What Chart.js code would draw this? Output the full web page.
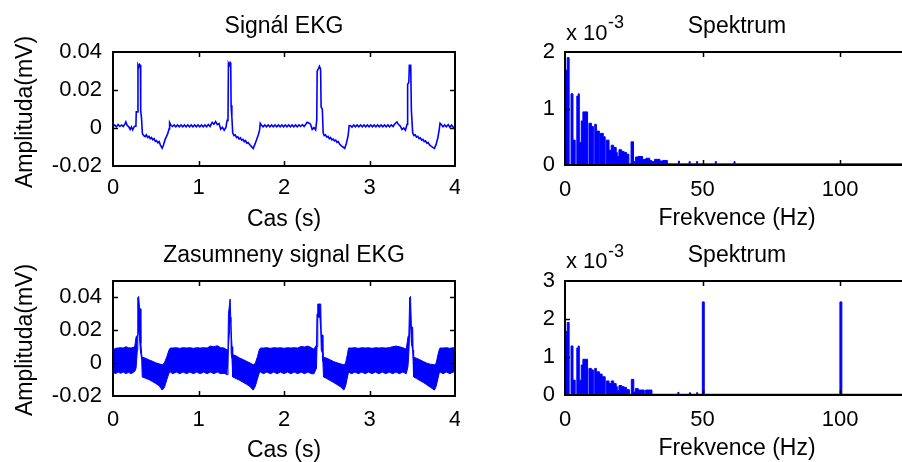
<!DOCTYPE html>
<html>
<head>
<meta charset="utf-8">
<script src="https://cdn.jsdelivr.net/npm/chart.js"></script>
<style>
html,body{margin:0;padding:0;background:#fff;overflow:hidden;}
#wrap{position:relative;width:902px;height:462px;overflow:hidden;background:#fff;}
canvas{position:absolute;}
.t{position:absolute;font-family:"Liberation Sans",Arial,sans-serif;font-size:23px;line-height:23px;white-space:nowrap;color:#000;transform:translateX(-50%);}
.r{position:absolute;font-family:"Liberation Sans",Arial,sans-serif;font-size:23px;line-height:23px;white-space:nowrap;color:#000;transform:translate(-50%,-50%) rotate(-90deg);}
.e{position:absolute;font-family:"Liberation Sans",Arial,sans-serif;white-space:nowrap;color:#000;}
</style>
</head>
<body>
<div id="wrap">
  <canvas id="c1" width="460" height="232" style="left:0;top:0"></canvas>
  <canvas id="c2" width="460" height="232" style="left:460px;top:0"></canvas>
  <canvas id="c3" width="460" height="230" style="left:0;top:232px"></canvas>
  <canvas id="c4" width="460" height="230" style="left:460px;top:232px"></canvas>

  <div class="t" style="left:284px;top:13.5px">Signál EKG</div>
  <div class="t" style="left:737px;top:13.5px">Spektrum</div>
  <div class="t" style="left:284px;top:206.5px">Cas (s)</div>
  <div class="t" style="left:737px;top:205.5px">Frekvence (Hz)</div>
  <div class="r" style="left:23.5px;top:112px">Amplituda(mV)</div>
  <div class="e" style="left:566px;top:22.4px;font-size:22px;line-height:22px">x 10</div>
  <div class="e" style="left:608px;top:12.8px;font-size:18px;line-height:18px">-3</div>

  <div class="t" style="left:284px;top:242.5px">Zasumneny signal EKG</div>
  <div class="t" style="left:737px;top:242.5px">Spektrum</div>
  <div class="t" style="left:284px;top:437.5px">Cas (s)</div>
  <div class="t" style="left:737px;top:435.5px">Frekvence (Hz)</div>
  <div class="r" style="left:23.5px;top:339.5px">Amplituda(mV)</div>
  <div class="e" style="left:566px;top:250.4px;font-size:22px;line-height:22px">x 10</div>
  <div class="e" style="left:608px;top:241.8px;font-size:18px;line-height:18px">-3</div>
</div>
<script>
// ---------------- DATA ----------------
// Clean ECG signal (time in s, amplitude in mV)
const ekgTime = [
0.000,0.020,0.040,0.060,0.080,0.100,0.120,0.140,0.150,0.165,0.185,0.200,0.215,0.230,0.250,0.268,0.272,0.288,0.292,0.300,0.310,0.320,0.324,0.334,0.344,
0.360,0.375,0.390,0.405,0.420,0.435,0.450,0.465,0.480,0.495,0.510,0.525,0.540,0.555,0.575,0.590,0.610,0.625,0.640,0.655,0.662,0.675,
0.695,0.715,0.735,0.755,0.775,0.795,0.815,0.835,0.855,0.875,0.895,0.915,0.935,0.955,0.975,0.995,1.015,1.035,1.055,1.075,1.095,1.115,1.135,
1.160,1.180,1.200,1.220,1.240,1.260,1.280,1.300,1.320,1.335,1.345,1.350,1.360,1.370,1.377,1.381,1.390,1.400,
1.415,1.430,1.445,1.460,1.475,1.490,1.505,1.520,1.535,1.550,1.565,1.580,1.600,1.620,1.640,1.660,1.680,1.700,1.715,1.722,1.735,
1.755,1.775,1.795,1.815,1.835,1.855,1.875,1.895,1.915,1.935,1.955,1.975,1.995,2.015,2.035,2.055,2.075,2.095,2.115,2.135,2.155,2.175,2.195,2.215,2.235,2.255,
2.270,2.290,2.310,2.330,2.350,2.370,2.383,2.388,2.400,2.415,2.428,2.434,2.448,2.458,
2.470,2.485,2.500,2.515,2.530,2.545,2.560,2.575,2.590,2.605,2.620,2.635,2.650,2.670,2.690,2.710,2.730,2.750,2.762,2.780,
2.795,2.815,2.835,2.855,2.875,2.895,2.915,2.935,2.955,2.975,2.995,3.015,3.035,3.055,3.075,3.095,3.115,3.135,3.155,3.175,3.195,3.215,3.235,3.255,3.275,
3.300,3.320,3.340,3.360,3.380,3.400,3.420,3.440,3.446,3.460,3.466,3.482,3.490,3.505,
3.520,3.535,3.550,3.565,3.580,3.595,3.610,3.625,3.640,3.655,3.670,3.685,3.700,3.720,3.740,3.760,3.780,3.800,3.815,3.825,3.840,
3.860,3.880,3.900,3.920,3.940,3.960,3.980,4.000];
const ekgAmp = [
0.0010,0.0016,0.0006,0.0018,0.0008,0.0016,0.0008,0.0022,0.0032,0.0014,0.0006,-0.0008,0.0006,-0.0010,0.0008,0.0010,0.0085,0.0085,0.0330,0.0320,0.0335,0.0330,0.0090,0.0050,-0.0030,
-0.0040,-0.0045,-0.0036,-0.0050,-0.0044,-0.0056,-0.0050,-0.0062,-0.0056,-0.0070,-0.0066,-0.0078,-0.0072,-0.0090,-0.0106,-0.0090,-0.0060,-0.0045,-0.0030,-0.0005,0.0028,0.0016,
0.0008,0.0016,0.0006,0.0016,0.0006,0.0016,0.0006,0.0016,0.0006,0.0016,0.0006,0.0016,0.0006,0.0016,0.0006,0.0016,0.0006,0.0016,0.0006,0.0016,0.0006,0.0018,0.0008,
0.0030,0.0020,0.0034,0.0018,0.0024,-0.0006,0.0004,-0.0012,0.0002,0.0040,0.0045,0.0340,0.0330,0.0345,0.0340,0.0120,0.0060,-0.0025,
-0.0040,-0.0036,-0.0050,-0.0046,-0.0058,-0.0052,-0.0064,-0.0060,-0.0072,-0.0066,-0.0080,-0.0076,-0.0088,-0.0098,-0.0108,-0.0085,-0.0060,-0.0035,-0.0010,0.0025,0.0016,
0.0006,0.0016,0.0006,0.0016,0.0006,0.0016,0.0006,0.0016,0.0006,0.0016,0.0006,0.0016,0.0006,0.0016,0.0006,0.0016,0.0006,0.0016,0.0006,0.0016,0.0006,0.0016,0.0008,0.0018,0.0008,0.0020,
0.0030,0.0026,0.0020,-0.0008,0.0002,-0.0010,0.0040,0.0300,0.0310,0.0325,0.0310,0.0110,0.0100,-0.0025,
-0.0040,-0.0036,-0.0048,-0.0044,-0.0056,-0.0050,-0.0062,-0.0058,-0.0068,-0.0064,-0.0076,-0.0072,-0.0084,-0.0094,-0.0100,-0.0107,-0.0080,-0.0040,0.0013,0.0012,
0.0004,0.0016,0.0006,0.0016,0.0006,0.0016,0.0006,0.0016,0.0006,0.0016,0.0006,0.0016,0.0006,0.0016,0.0006,0.0016,0.0006,0.0016,0.0006,0.0016,0.0006,0.0016,0.0006,0.0016,0.0008,
0.0024,0.0032,0.0018,0.0010,-0.0008,0.0000,-0.0012,0.0020,0.0230,0.0240,0.0330,0.0330,0.0090,-0.0025,
-0.0040,-0.0036,-0.0048,-0.0044,-0.0056,-0.0052,-0.0064,-0.0060,-0.0072,-0.0068,-0.0080,-0.0076,-0.0088,-0.0096,-0.0102,-0.0107,-0.0085,-0.0050,-0.0010,0.0025,0.0018,
0.0006,0.0016,0.0006,0.0018,0.0004,0.0016,0.0004,0.0004];

// Noisy ECG: upper and lower envelope of the dense 50/100 Hz noise band (mV)
const noisyTime = [
0.000,0.030,0.060,0.090,0.120,0.150,0.180,0.210,0.240,0.255,0.270,0.285,0.290,0.300,0.310,0.320,0.326,0.336,0.342,
0.380,0.420,0.460,0.500,0.540,0.575,0.600,0.630,0.655,0.670,
0.700,0.740,0.780,0.820,0.860,0.900,0.940,0.980,1.020,1.060,1.100,1.140,1.180,1.220,1.260,1.300,1.335,1.345,1.350,1.370,1.378,1.382,1.392,1.400,
1.440,1.480,1.520,1.560,1.600,1.640,1.665,1.690,1.710,1.725,
1.760,1.800,1.840,1.880,1.920,1.960,2.000,2.040,2.080,2.120,2.160,2.200,2.240,2.280,2.320,2.350,2.380,2.386,2.395,2.420,2.430,2.436,2.450,2.455,2.462,
2.500,2.540,2.580,2.620,2.660,2.700,2.720,2.740,2.755,
2.790,2.830,2.870,2.910,2.950,2.990,3.030,3.070,3.110,3.150,3.190,3.230,3.270,3.310,3.350,3.390,3.430,3.450,3.460,3.470,3.480,3.490,3.505,3.510,3.516,
3.550,3.590,3.630,3.670,3.710,3.760,3.780,3.800,3.815,3.825,
3.860,3.900,3.940,3.980,4.000];
const noisyHigh = [
0.0082,0.0090,0.0092,0.0094,0.0092,0.0100,0.0094,0.0092,0.0096,0.0105,0.0160,0.0170,0.0400,0.0406,0.0340,0.0330,0.0120,0.0050,0.0036,
0.0030,0.0020,0.0012,0.0002,-0.0004,-0.0010,0.0000,0.0040,0.0080,0.0092,
0.0092,0.0094,0.0090,0.0094,0.0092,0.0094,0.0090,0.0094,0.0092,0.0094,0.0092,0.0104,0.0100,0.0106,0.0094,0.0092,0.0080,0.0110,0.0300,0.0390,0.0390,0.0200,0.0100,0.0052,
0.0044,0.0032,0.0022,0.0012,0.0002,-0.0010,0.0000,0.0040,0.0080,0.0092,
0.0092,0.0094,0.0090,0.0094,0.0092,0.0094,0.0090,0.0094,0.0092,0.0094,0.0092,0.0102,0.0098,0.0104,0.0094,0.0085,0.0110,0.0300,0.0360,0.0360,0.0360,0.0180,0.0170,0.0050,0.0036,
0.0030,0.0020,0.0010,0.0002,-0.0004,-0.0010,0.0000,0.0050,0.0092,
0.0092,0.0094,0.0090,0.0094,0.0092,0.0094,0.0090,0.0094,0.0092,0.0094,0.0092,0.0094,0.0100,0.0104,0.0100,0.0094,0.0085,0.0160,0.0170,0.0400,0.0406,0.0220,0.0220,0.0080,0.0036,
0.0030,0.0020,0.0010,0.0000,-0.0006,-0.0010,0.0000,0.0050,0.0080,0.0092,
0.0092,0.0094,0.0090,0.0094,0.0092];
const noisyLow = [
-0.0055,-0.0064,-0.0054,-0.0062,-0.0054,-0.0064,-0.0056,-0.0064,-0.0056,-0.0050,-0.0030,0.0080,0.0180,0.0200,0.0150,0.0080,0.0060,0.0020,-0.0084,
-0.0092,-0.0100,-0.0112,-0.0124,-0.0138,-0.0164,-0.0150,-0.0100,-0.0060,-0.0054,
-0.0064,-0.0054,-0.0064,-0.0054,-0.0064,-0.0054,-0.0064,-0.0054,-0.0064,-0.0054,-0.0064,-0.0054,-0.0064,-0.0054,-0.0064,-0.0062,-0.0070,-0.0020,0.0100,0.0250,0.0280,0.0060,0.0020,-0.0084,
-0.0094,-0.0104,-0.0116,-0.0128,-0.0142,-0.0164,-0.0140,-0.0095,-0.0060,-0.0054,
-0.0064,-0.0054,-0.0064,-0.0054,-0.0064,-0.0054,-0.0064,-0.0054,-0.0064,-0.0054,-0.0064,-0.0054,-0.0064,-0.0054,-0.0064,-0.0065,-0.0030,0.0100,0.0280,0.0280,0.0200,0.0080,0.0060,0.0010,-0.0084,
-0.0094,-0.0106,-0.0118,-0.0130,-0.0144,-0.0164,-0.0140,-0.0090,-0.0054,
-0.0064,-0.0054,-0.0064,-0.0054,-0.0064,-0.0054,-0.0064,-0.0054,-0.0064,-0.0054,-0.0064,-0.0054,-0.0064,-0.0054,-0.0064,-0.0054,-0.0065,-0.0020,0.0060,0.0200,0.0250,0.0120,0.0080,0.0010,-0.0084,
-0.0094,-0.0106,-0.0118,-0.0132,-0.0146,-0.0164,-0.0140,-0.0095,-0.0060,-0.0054,
-0.0064,-0.0054,-0.0064,-0.0054,-0.0056];

// Spectrum of clean signal (Hz, magnitude x 10^-3); each value holds until the next frequency
const specFreq = [0,0.8,1.5,2.2,2.9,3.7,4.3,4.8,5.2,5.9,6.5,8.2,8.7,9.6,10.3,10.8,11.4,12.5,12.9,13.9,14.6,15.0,16.0,16.8,17.7,18.6,19.0,19.6,20.6,21.5,22.4,23.2,24.0,24.9,25.6,26.5,28.2,29.4,30.8,31.5,32.5,34.5,35.5,37.2,41.2,41.6,45.1,45.5,47.8,48.2,54.6,55.0,61.4,61.8,125];
const specMagE3 = [1.68,1.90,0,1.26,0.44,0,1.22,1.26,0.40,0.78,0.94,0,0.74,0.68,0,0.72,0.60,0,0.56,0.50,0,0.44,0.26,0.35,0.31,0.22,0.15,0.27,0.24,0.22,0.19,0.02,0.41,0.06,0.14,0.15,0.10,0.12,0.08,0.06,0.10,0.07,0.08,0.02,0.07,0.02,0.06,0.02,0.06,0.02,0.06,0.02,0.06,0.02,0.02];

// Spectrum of noisy signal (Hz, magnitude x 10^-3)
const noisySpecFreq = [0,0.8,1.5,2.2,2.9,3.7,4.3,4.8,5.2,5.9,6.5,8.2,8.7,9.6,10.3,10.8,11.4,12.5,13.5,14.6,15.0,16.0,16.8,17.7,18.6,19.0,19.6,20.6,21.5,22.4,23.4,24.1,25.0,25.6,26.6,28.8,29.3,31.6,41.0,41.4,45.2,45.6,47.8,48.2,49.9,50.6,99.9,100.6,125];
const noisySpecMagE3 = [1.67,1.91,0,1.29,0.39,0,1.24,1.29,0.39,0.79,0.94,0,0.70,0.66,0,0.70,0.61,0.55,0.48,0,0.37,0.30,0.37,0.30,0.22,0.12,0.25,0.22,0.20,0.14,0.02,0.41,0.08,0.17,0.13,0.02,0.13,0.02,0.07,0.02,0.06,0.02,0.06,0.02,2.45,0.02,2.45,0.02,0.02];

// Tick labels
const timeTicks = [0,1,2,3,4];
const ampTicks = [-0.02,0,0.02,0.04];
const freqTicks = [0,50,100];
const specTicksTop = [0,1,2];
const specTicksBottom = [0,1,2,3];

// ---------------- DRAWING ----------------
const BLUE = '#0000ff';
const FONT = {family:'"Liberation Sans", Arial, sans-serif', size:22};

const boxPlugin = {
  id:'matlabBox',
  afterDraw(chart){
    const {ctx, chartArea:a, scales} = chart;
    const x = scales.x, y = scales.y;
    ctx.save();
    ctx.strokeStyle = '#000';
    ctx.lineWidth = 1.5;
    ctx.beginPath();
    x.ticks.forEach(t=>{
      const p = Math.round(x.getPixelForValue(t.value))+0.5;
      if (p <= a.left+1 || p >= a.right-1) return;
      ctx.moveTo(p,a.bottom); ctx.lineTo(p,a.bottom-5);
      ctx.moveTo(p,a.top); ctx.lineTo(p,a.top+5);
    });
    y.ticks.forEach(t=>{
      const p = Math.round(y.getPixelForValue(t.value))+0.5;
      if (p <= a.top+1 || p >= a.bottom-1) return;
      ctx.moveTo(a.left,p); ctx.lineTo(a.left+5,p);
      ctx.moveTo(a.right,p); ctx.lineTo(a.right-5,p);
    });
    ctx.stroke();
    ctx.lineWidth = 2;
    ctx.strokeRect(a.left, a.top, a.right-a.left, a.bottom-a.top);
    ctx.restore();
  }
};

function pts(xs, ys){ return xs.map((v,i)=>({x:v, y:ys[i]})); }

function makeChart(id, datasets, opt){
  return new Chart(document.getElementById(id), {
    type:'line',
    data:{datasets},
    options:{
      responsive:false, animation:false, devicePixelRatio:1,
      parsing:false,
      layout:{padding:{top:opt.top, right:opt.right, bottom:0, left:0}},
      plugins:{legend:{display:false}, tooltip:{enabled:false}, title:{display:false}},
      elements:{point:{radius:0}},
      scales:{
        x:{type:'linear', min:opt.xmin, max:opt.xmax,
           grid:{display:false, drawTicks:false}, border:{display:false},
           ticks:{font:FONT, color:'#000', padding:opt.xpad, maxRotation:0, autoSkip:false},
           afterBuildTicks:s=>{ s.ticks = opt.xticks.map(v=>({value:v})); },
           afterFit:s=>{ s.height = opt.xh; s.paddingLeft = 0; s.paddingRight = 0; }},
        y:{type:'linear', min:opt.ymin, max:opt.ymax,
           grid:{display:false, drawTicks:false}, border:{display:false},
           ticks:{font:FONT, color:'#000', padding:opt.ypad, autoSkip:false},
           afterBuildTicks:s=>{ s.ticks = opt.yticks.map(v=>({value:v})); },
           afterFit:s=>{ s.width = opt.yw; s.paddingTop = 0; s.paddingBottom = 0; }}
      }
    },
    plugins:[boxPlugin]
  });
}

// Top-left: clean ECG
makeChart('c1', [{
  data:pts(ekgTime, ekgAmp), borderColor:BLUE, borderWidth:1.6, fill:false, tension:0
}], {top:52, right:5, xmin:0, xmax:4, ymin:-0.02, ymax:0.04, xticks:timeTicks, yticks:ampTicks, xh:66, yw:113, xpad:9, ypad:11});

// Top-right: spectrum
makeChart('c2', [{
  data:pts(specFreq, specMagE3), borderColor:BLUE, backgroundColor:BLUE, borderWidth:1, fill:'origin', stepped:'before'
}], {top:52, right:11, xmin:0, xmax:125, ymin:0, ymax:2, xticks:freqTicks, yticks:specTicksTop, xh:67, yw:105, xpad:12, ypad:10});

// Bottom-left: noisy ECG band
makeChart('c3', [
  {data:pts(noisyTime, noisyHigh), borderColor:BLUE, backgroundColor:BLUE, borderWidth:1, fill:'+1', tension:0},
  {data:pts(noisyTime, noisyLow), borderColor:BLUE, backgroundColor:BLUE, borderWidth:1, fill:false, tension:0}
], {top:49, right:5, xmin:0, xmax:4, ymin:-0.02, ymax:0.05, xticks:timeTicks, yticks:ampTicks, xh:66, yw:113, xpad:11, ypad:11});

// Bottom-right: noisy spectrum
makeChart('c4', [{
  data:pts(noisySpecFreq, noisySpecMagE3), borderColor:BLUE, backgroundColor:BLUE, borderWidth:1, fill:'origin', stepped:'before'
}], {top:49, right:11, xmin:0, xmax:125, ymin:0, ymax:3, xticks:freqTicks, yticks:specTicksBottom, xh:67, yw:105, xpad:12, ypad:10});
</script>
</body>
</html>
